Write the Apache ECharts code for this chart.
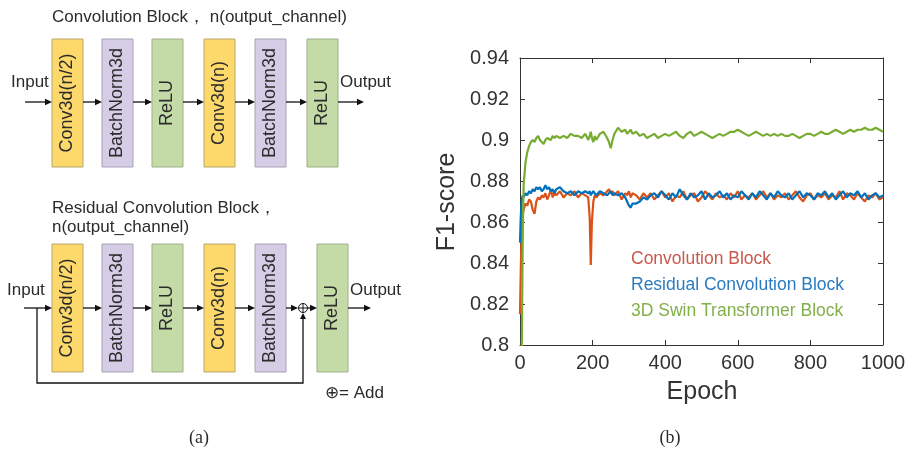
<!DOCTYPE html>
<html>
<head>
<meta charset="utf-8">
<script src="https://cdn.jsdelivr.net/npm/echarts@6/dist/echarts.min.js"></script>
<style>html,body{margin:0;padding:0;background:#fff;}#c{width:914px;height:456px;}</style>
</head>
<body>
<div id="c"></div>
<script>
// ---------------- DATA ----------------
const epochs = [0,2,4,6,8,10,
15,20,25,30,35,40,45,50,55,60,65,70,75,80,85,90,95,100,
110,120,130,140,150,160,170,180,
188,192,195,198,202,206,
210,220,230,240,
245,250,255,260,
270,280,290,
295,300,305,310,
320,330,340,
350,360,370,380,390,400,410,420,430,440,
450,460,470,480,490,500,510,520,530,540,
550,560,570,580,590,600,610,620,630,640,
650,660,670,680,690,700,710,720,730,740,
750,760,770,780,790,800,810,820,830,840,
850,860,870,880,890,900,910,920,930,940,
950,960,970,980,990,1000];

const convBlock = [0.815,0.835,0.852,0.860,0.864,0.866,
0.869,0.868,0.871,0.870,0.866,0.864,0.870,0.872,0.871,0.873,0.872,0.874,0.871,0.873,0.876,0.872,0.874,0.873,
0.875,0.872,0.874,0.873,0.875,0.872,0.874,0.873,
0.872,0.862,0.839,0.860,0.870,0.873,
0.872,0.874,0.873,0.875,
0.876,0.874,0.875,0.873,
0.875,0.871,0.874,
0.873,0.875,0.872,0.874,
0.873,0.871,0.874,
0.872,0.874,0.871,0.873,0.875,0.872,0.874,0.870,0.873,0.872,
0.875,0.871,0.873,0.874,0.870,0.872,0.875,0.873,0.871,0.874,
0.872,0.873,0.871,0.874,0.872,0.875,0.871,0.873,0.872,0.874,
0.871,0.873,0.875,0.872,0.874,0.871,0.873,0.872,0.874,0.871,
0.873,0.875,0.872,0.870,0.873,0.874,0.871,0.873,0.872,0.874,
0.871,0.873,0.872,0.875,0.871,0.874,0.873,0.871,0.874,0.872,
0.870,0.873,0.872,0.874,0.871,0.872];

const residualBlock = [0.850,0.862,0.869,0.872,0.873,0.872,
0.874,0.873,0.875,0.874,0.876,0.875,0.877,0.876,0.877,0.875,0.876,0.878,0.876,0.877,0.875,0.876,0.874,0.876,
0.877,0.875,0.874,0.875,0.873,0.875,0.874,0.875,
0.874,0.875,0.873,0.874,0.875,0.874,
0.873,0.875,0.874,0.873,
0.874,0.875,0.873,0.874,
0.873,0.874,0.872,
0.870,0.868,0.867,0.869,
0.869,0.870,0.872,
0.871,0.873,0.874,0.872,0.875,0.873,0.871,0.874,0.872,0.876,
0.873,0.871,0.874,0.872,0.873,0.875,0.871,0.874,0.872,0.873,
0.875,0.872,0.874,0.871,0.873,0.872,0.875,0.873,0.871,0.874,
0.872,0.875,0.873,0.871,0.874,0.872,0.875,0.873,0.872,0.874,
0.871,0.873,0.875,0.872,0.874,0.873,0.871,0.874,0.873,0.875,
0.872,0.874,0.871,0.873,0.875,0.872,0.874,0.873,0.875,0.872,
0.874,0.871,0.873,0.874,0.872,0.873];

const swinBlock = [0.62,0.70,0.78,0.82,0.86,0.878,
0.889,0.894,0.897,0.899,0.900,0.899,0.901,0.902,0.900,0.899,0.898,0.900,0.901,0.901,0.900,0.902,0.901,0.902,
0.901,0.902,0.901,0.903,0.902,0.902,0.901,0.903,
0.900,0.902,0.904,0.901,0.899,0.902,
0.900,0.903,0.904,0.901,
0.899,0.896,0.900,0.903,
0.906,0.904,0.905,
0.903,0.904,0.905,0.903,
0.904,0.902,0.903,
0.901,0.902,0.903,0.901,0.902,0.903,0.902,0.903,0.904,0.902,
0.901,0.903,0.904,0.902,0.903,0.904,0.903,0.902,0.901,0.902,
0.903,0.902,0.903,0.904,0.904,0.905,0.904,0.903,0.902,0.903,
0.904,0.903,0.902,0.903,0.902,0.903,0.902,0.903,0.902,0.902,
0.903,0.902,0.901,0.902,0.903,0.903,0.902,0.903,0.904,0.903,
0.903,0.904,0.905,0.904,0.903,0.904,0.905,0.904,0.905,0.905,
0.906,0.905,0.905,0.906,0.905,0.904];

const seriesNames = ['Convolution Block','Residual Convolution Block','3D Swin Transformer Block'];
const lineColors = ['#D95319','#0072BD','#77AC30'];
const legendColors = ['#C8594C','#2C7BC2','#82B04A'];
const yTicks = [0.8,0.82,0.84,0.86,0.88,0.9,0.92,0.94];
const xTicks = [0,200,400,600,800,1000];

// diagram labels
const row1Boxes = ['Conv3d(n/2)','BatchNorm3d','ReLU','Conv3d(n)','BatchNorm3d','ReLU'];
const row2Boxes = ['Conv3d(n/2)','BatchNorm3d','ReLU','Conv3d(n)','BatchNorm3d','ReLU'];

// ---------------- DIAGRAM ----------------
const FONT = 'Liberation Sans, Arial, sans-serif';
const boxFill = {'Conv3d(n/2)':'#FCD96A','Conv3d(n)':'#FCD96A','BatchNorm3d':'#D5CDE5','ReLU':'#C5DBA7'};
const boxStroke = {'Conv3d(n/2)':'#B9A76E','Conv3d(n)':'#B9A76E','BatchNorm3d':'#A7A0B5','ReLU':'#9DAF86'};
const G = [];
function txt(x,y,t,size,opts){
  opts = opts||{};
  G.push({type:'text', x:x, y:y, rotation:opts.rot||0, z:10,
    style:{text:t, fill:opts.color||'#2b2b2b', font:(size)+'px '+(opts.family||FONT),
      textAlign:opts.align||'left', textVerticalAlign:'middle', align:opts.align||'left', verticalAlign:'middle'}});
}
function arrow(x1,y,x2){
  G.push({type:'line', shape:{x1:x1,y1:y,x2:x2-5,y2:y}, style:{stroke:'#111',lineWidth:1.3}});
  G.push({type:'polygon', shape:{points:[[x2,y],[x2-7,y-3.2],[x2-7,y+3.2]]}, style:{fill:'#111'}});
}
function box(x0,y0,w,h,label){
  G.push({type:'rect', shape:{x:x0,y:y0,width:w,height:h}, style:{fill:boxFill[label],stroke:boxStroke[label],lineWidth:1}});
  txt(x0+w/2, y0+h/2, label, 18, {rot:Math.PI/2, align:'center'});
}
const bx1 = [52,102,152,204,255,307];
const bx2 = [52,102,152,204,255,317];
const bw = 31;
// Row 1
txt(52,17,'Convolution Block\uFF0C n(output_channel)',17);
row1Boxes.forEach((l,i)=>box(bx1[i],39,bw,128,l));
txt(11,82,'Input',17);
arrow(25,102,52);
for(let i=0;i<5;i++) arrow(bx1[i]+bw,102,bx1[i+1]);
txt(340,82,'Output',17);
arrow(338,102,364);
// Row 2
txt(52,208,'Residual Convolution Block\uFF0C',17);
txt(52,227,'n(output_channel)',17);
row2Boxes.forEach((l,i)=>box(bx2[i],244,bw,128,l));
txt(7,290,'Input',17);
arrow(24,308,52);
for(let i=0;i<4;i++) arrow(bx2[i]+bw,308,bx2[i+1]);
arrow(bx2[4]+bw,308,298);
arrow(308,308,317);
G.push({type:'polyline', shape:{points:[[37,308],[37,383],[303,383],[303,318]]}, style:{stroke:'#111',lineWidth:1.3,fill:null}});
G.push({type:'polygon', shape:{points:[[303,313],[300,319],[306,319]]}, style:{fill:'#111'}});
G.push({type:'circle', shape:{cx:303,cy:308,r:4.5}, style:{fill:'#fff',stroke:'#111',lineWidth:1}});
G.push({type:'line', shape:{x1:298.5,y1:308,x2:307.5,y2:308}, style:{stroke:'#111',lineWidth:1}});
G.push({type:'line', shape:{x1:303,y1:303.5,x2:303,y2:312.5}, style:{stroke:'#111',lineWidth:1}});
txt(350,290,'Output',17);
arrow(348,308,371);
txt(325,393,'\u2295= Add',17);
// captions
txt(199,438,'(a)',18,{align:'center',family:'Liberation Serif, serif'});
txt(670,438,'(b)',18,{align:'center',family:'Liberation Serif, serif'});
// axis titles
txt(447,202,'F1-score',25,{rot:Math.PI/2,align:'center',color:'#333'});
txt(702,392,'Epoch',25,{align:'center',color:'#333'});

// ---------------- CHART ----------------
const chart = echarts.init(document.getElementById('c'), null, {renderer:'canvas'});
const mk = arr => epochs.map((e,i)=>[e, arr[i]]);
const dataSets = [convBlock, residualBlock, swinBlock];
const axisCommon = {
  type:'value', splitLine:{show:false},
  axisLine:{show:true, onZero:false, lineStyle:{color:'#333', width:1}},
  axisTick:{show:true, inside:true, length:5, lineStyle:{color:'#333'}}
};
chart.setOption({
  animation:false,
  backgroundColor:'#fff',
  grid:{left:520, right:31, top:58, bottom:111, containLabel:false},
  legend:{
    show:true, orient:'vertical', left:621, top:245, icon:'none', itemWidth:0, itemHeight:16, itemGap:8,
    selectedMode:false,
    textStyle:{fontSize:17.5, fontFamily:FONT},
    data: seriesNames.map((n,i)=>({name:n, textStyle:{color:legendColors[i]}}))
  },
  xAxis:[
    Object.assign({}, axisCommon, {position:'bottom', min:xTicks[0], max:xTicks[xTicks.length-1], interval:xTicks[1]-xTicks[0],
      axisLabel:{show:true, fontSize:20, color:'#333', fontFamily:FONT, margin:8, formatter: v => String(v)}}),
    Object.assign({}, axisCommon, {position:'top', min:xTicks[0], max:xTicks[xTicks.length-1], interval:xTicks[1]-xTicks[0],
      axisLabel:{show:false}})
  ],
  yAxis:[
    Object.assign({}, axisCommon, {position:'left', min:yTicks[0], max:yTicks[yTicks.length-1], interval:0.02,
      axisLabel:{show:true, fontSize:20, color:'#333', fontFamily:FONT, margin:11,
        formatter: v => String(+v.toFixed(2))}}),
    Object.assign({}, axisCommon, {position:'right', min:yTicks[0], max:yTicks[yTicks.length-1], interval:0.02,
      axisLabel:{show:false}})
  ],
  series: seriesNames.map((n,i)=>({
    name:n, type:'line', xAxisIndex:0, yAxisIndex:0, data:mk(dataSets[i]),
    showSymbol:false, symbol:'none', clip:true, smooth:false,
    lineStyle:{color:lineColors[i], width:2.2}, itemStyle:{color:lineColors[i]}
  })),
  graphic:{elements:G}
});
</script>
</body>
</html>
